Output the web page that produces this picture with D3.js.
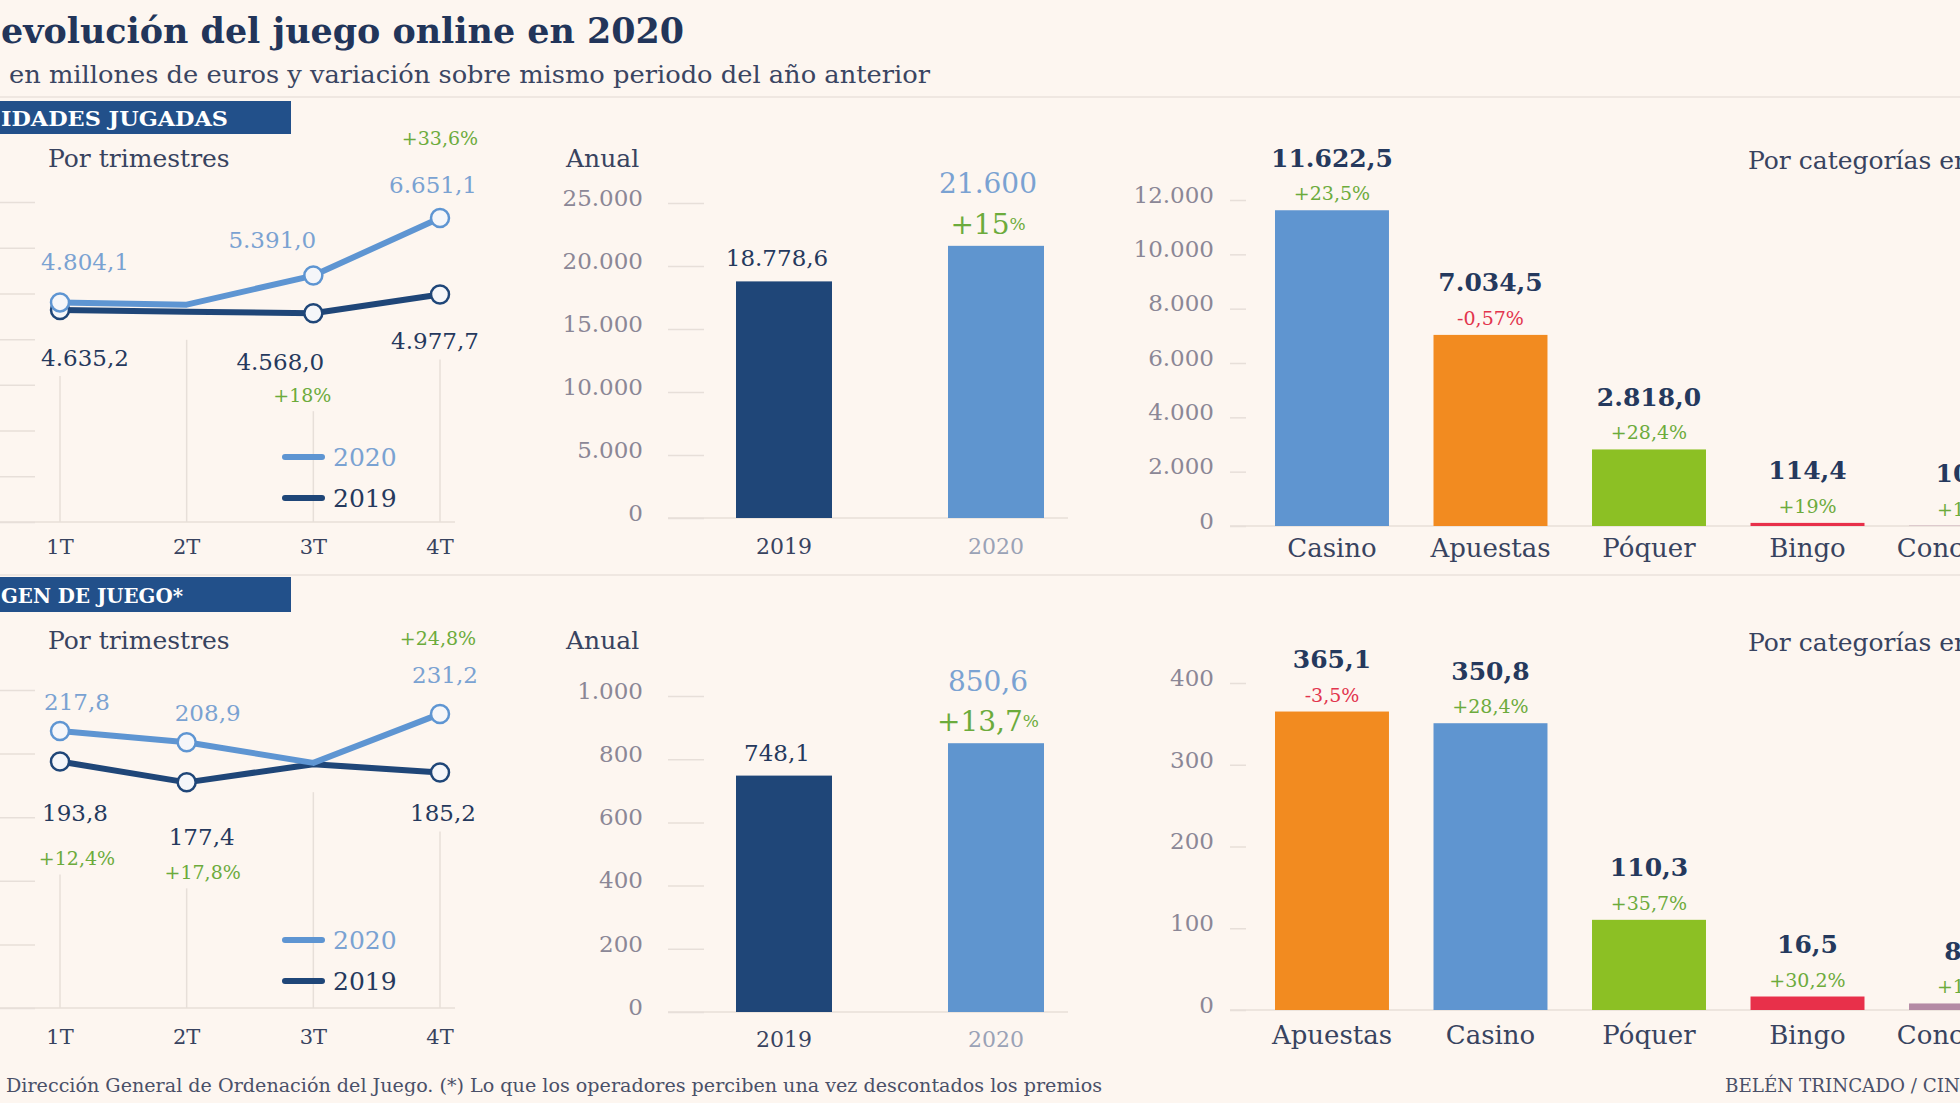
<!DOCTYPE html>
<html><head><meta charset="utf-8">
<script src="https://cdn.jsdelivr.net/npm/d3@7"></script>
<style>
html,body{margin:0;padding:0;background:#fdf6f0;overflow:hidden;}
svg{display:block;font-family:"DejaVu Serif",serif;}
</style></head><body>
<svg id="c" width="1960" height="1103"></svg>
<script>
// ---------- DATA ----------
const quarters = ["1T", "2T", "3T", "4T"];
const jugadas2020 = [4804.1, 4753.8, 5391.0, 6651.1];
const jugadas2019 = [4635.2, 4597.7, 4568.0, 4977.7];
const jugadasPct = ["", "", "+18%", "+33,6%"];
const jugadasTicks = [0, 1000, 2000, 3000, 4000, 5000, 6000, 7000];

const margen2020 = [217.8, 208.9, 192.7, 231.2];
const margen2019 = [193.8, 177.4, 191.7, 185.2];
const margenPct = ["+12,4%", "+17,8%", "", "+24,8%"];
const margenTicks = [0, 50, 100, 150, 200, 250];

const years = ["2019", "2020"];
const annualJugadas = [18778.6, 21600];
const annualJugadasDecimals = [1, 0];
const annualJugadasPct = "+15";
const annualJugadasTicks = [0, 5000, 10000, 15000, 20000, 25000];
const annualMargen = [748.1, 850.6];
const annualMargenDecimals = [1, 1];
const annualMargenPct = "+13,7";
const annualMargenTicks = [0, 200, 400, 600, 800, 1000];

const catJugadas = ["Casino", "Apuestas", "Póquer", "Bingo", "Concursos"];
const catJugadasValues = [11622.5, 7034.5, 2818.0, 114.4, 10.6];
const catJugadasPct = ["+23,5%", "-0,57%", "+28,4%", "+19%", "+18%"];
const catJugadasTicks = [0, 2000, 4000, 6000, 8000, 10000, 12000];
const catMargen = ["Apuestas", "Casino", "Póquer", "Bingo", "Concursos"];
const catMargenValues = [365.1, 350.8, 110.3, 16.5, 8.0];
const catMargenPct = ["-3,5%", "+28,4%", "+35,7%", "+30,2%", "+19%"];
const catMargenTicks = [0, 100, 200, 300, 400];

// ---------- STYLE ----------
const C = {
  bg: "#fdf6f0", navy: "#25395d", text: "#38435f", tick: "#8b8796", grid: "#e7dfd9",
  l2020: "#5e95d2", l2019: "#1f4678", green: "#6cab3c", red: "#e2344d",
  light: "#7aa2d2", header: "#22508a", year2020: "#9aa2b6"
};
const catColor = { Casino: "#5f95d0", Apuestas: "#f28b20", "Póquer": "#8cc024", Bingo: "#e8304a", Concursos: "#b48aa5" };

const es = d3.formatLocale({ decimal: ",", thousands: ".", grouping: [3], currency: ["", "€"] });
const fmt = d => es.format(",." + d + "f");
const f1 = fmt(1);

const svg = d3.select("#c");
svg.append("rect").attr("width", 1960).attr("height", 1103).attr("fill", C.bg);

function txt(g, x, y, s, size, fill, opt = {}) {
  return g.append("text").attr("x", x).attr("y", y).text(s)
    .attr("font-size", size).attr("fill", fill)
    .attr("text-anchor", opt.anchor || "middle")
    .attr("dominant-baseline", "central")
    .attr("font-weight", opt.bold ? "bold" : "normal");
}

// ---------- HEADINGS ----------
svg.append("line").attr("x1", 0).attr("x2", 1960).attr("y1", 97).attr("y2", 97).attr("stroke", "#efe7e1").attr("stroke-width", 2);
svg.append("line").attr("x1", 0).attr("x2", 1960).attr("y1", 575).attr("y2", 575).attr("stroke", "#efe7e1").attr("stroke-width", 2);

svg.append("text").attr("x", 1).attr("y", 43).text("evolución del juego online en 2020")
  .attr("font-size", 36).attr("font-weight", "bold").attr("fill", "#22355a")
  .attr("textLength", 683).attr("lengthAdjust", "spacingAndGlyphs");
svg.append("text").attr("x", 9).attr("y", 83).text("en millones de euros y variación sobre mismo periodo del año anterior")
  .attr("font-size", 24).attr("fill", "#3a4562")
  .attr("textLength", 921).attr("lengthAdjust", "spacingAndGlyphs");

function header(y, h, s, w) {
  svg.append("rect").attr("x", 0).attr("y", y).attr("width", 291).attr("height", h).attr("fill", C.header);
  svg.append("text").attr("x", 1).attr("y", y + h / 2 + 8).attr("font-size", 21)
    .attr("font-weight", "bold").attr("fill", "#ffffff").text(s)
    .attr("textLength", w).attr("lengthAdjust", "spacingAndGlyphs");
}
header(101, 33, "IDADES JUGADAS", 227);
header(577, 35, "GEN DE JUEGO*", 182);

svg.append("text").attr("x", 6).attr("y", 1092)
  .text("Dirección General de Ordenación del Juego. (*) Lo que los operadores perciben una vez descontados los premios")
  .attr("font-size", 19).attr("fill", "#4a5068")
  .attr("textLength", 1096).attr("lengthAdjust", "spacingAndGlyphs");
const by = svg.append("text").attr("x", 1725).attr("y", 1092).text("BELÉN TRINCADO / CINCO DÍAS")
  .attr("font-size", 19).attr("fill", "#4a5068");
{ // scale byline so that its visible part matches
  const n = by.node(); const w = n.getSubStringLength(0, 20);
  by.attr("font-size", 19 * 235 / w);
}

// ---------- LINE CHARTS ----------
function lineChart(o) {
  const g = svg.append("g");
  const x = d3.scalePoint().domain(quarters).range([60, 440]);
  const y = d3.scaleLinear().domain([0, o.ticks[o.ticks.length - 1]]).range([o.y0, o.y1]);

  txt(g, 48, o.titleY, "Por trimestres", 25, C.text, { anchor: "start" });

  g.append("g").attr("transform", "translate(35,0)")
    .call(d3.axisLeft(y).tickValues(o.ticks).tickSize(35).tickFormat(""))
    .call(a => { a.select(".domain").remove(); a.selectAll("line").attr("stroke", C.grid).attr("stroke-width", 1.5); });
  g.append("line").attr("x1", 0).attr("x2", 455).attr("y1", y(0)).attr("y2", y(0)).attr("stroke", C.grid).attr("stroke-width", 1.5);

  // vertical gridlines below annotations
  quarters.forEach((q, i) => {
    const p19 = y(o.v2019[i]);
    let top = p19 + 28;
    if (o.lay.lab2019[i]) top = Math.max(top, p19 + o.lay.lab2019[i].dy + 18);
    const pc = o.lay.pct[i];
    if (pc && pc.ref === "2019") top = Math.max(top, p19 + pc.dy + 16);
    g.append("line").attr("x1", x(q)).attr("x2", x(q)).attr("y1", top).attr("y2", y(0))
      .attr("stroke", C.grid).attr("stroke-width", 1.5);
  });

  quarters.forEach(q => txt(g, x(q), o.xlabY, q, 21, C.text));

  const line = d3.line().x((d, i) => x(quarters[i])).y(d => y(d));
  [[o.v2019, C.l2019], [o.v2020, C.l2020]].forEach(([vals, col]) => {
    g.append("path").datum(vals).attr("d", line).attr("fill", "none").attr("stroke", col)
      .attr("stroke-width", 6).attr("stroke-linejoin", "round").attr("stroke-linecap", "round");
  });
  [[o.v2019, C.l2019, o.lay.lab2019], [o.v2020, C.l2020, o.lay.lab2020]].forEach(([vals, col, lay]) => {
    vals.forEach((v, i) => {
      if (!lay[i]) return;
      g.append("circle").attr("cx", x(quarters[i])).attr("cy", y(v)).attr("r", 9)
        .attr("fill", "#f5f6f9").attr("stroke", col).attr("stroke-width", 2.5);
    });
  });
  o.v2020.forEach((v, i) => {
    const l = o.lay.lab2020[i]; if (!l) return;
    txt(g, x(quarters[i]) + l.dx, y(v) + l.dy, f1(v), 23, C.light);
  });
  o.v2019.forEach((v, i) => {
    const l = o.lay.lab2019[i]; if (!l) return;
    txt(g, x(quarters[i]) + l.dx, y(v) + l.dy, f1(v), 23, C.navy);
  });
  o.pct.forEach((s, i) => {
    const l = o.lay.pct[i]; if (!s || !l) return;
    const base = l.ref === "2019" ? o.v2019[i] : o.v2020[i];
    txt(g, x(quarters[i]) + l.dx, y(base) + l.dy, s, 19, C.green);
  });

  // legend
  [["2020", C.l2020, C.light, 0], ["2019", C.l2019, C.navy, 41]].forEach(([s, col, tc, off]) => {
    g.append("line").attr("x1", 285).attr("x2", 322).attr("y1", o.legY + off).attr("y2", o.legY + off)
      .attr("stroke", col).attr("stroke-width", 6).attr("stroke-linecap", "round");
    txt(g, 333, o.legY + off, s, 25, tc, { anchor: "start" });
  });
}

lineChart({
  v2020: jugadas2020, v2019: jugadas2019, pct: jugadasPct, ticks: jugadasTicks,
  y0: 522, y1: 202, titleY: 158, xlabY: 547, legY: 457,
  lay: {
    lab2020: [{ dx: 25, dy: -40 }, null, { dx: -41, dy: -36 }, { dx: -7, dy: -33 }],
    lab2019: [{ dx: 25, dy: 48 }, null, { dx: -33, dy: 49 }, { dx: -5, dy: 47 }],
    pct: [null, null, { ref: "2019", dx: -11, dy: 82 }, { ref: "2020", dx: 0, dy: -80 }]
  }
});
lineChart({
  v2020: margen2020, v2019: margen2019, pct: margenPct, ticks: margenTicks,
  y0: 1008, y1: 690, titleY: 640, xlabY: 1037, legY: 940,
  lay: {
    lab2020: [{ dx: 17, dy: -29 }, { dx: 21, dy: -29 }, null, { dx: 5, dy: -39 }],
    lab2019: [{ dx: 15, dy: 52 }, { dx: 15, dy: 55 }, null, { dx: 3, dy: 41 }],
    pct: [{ ref: "2019", dx: 17, dy: 97 }, { ref: "2019", dx: 16, dy: 90 }, null, { ref: "2020", dx: -2, dy: -76 }]
  }
});

// ---------- ANNUAL BARS ----------
function annual(o) {
  const g = svg.append("g");
  const x = d3.scalePoint().domain(years).range([784, 996]);
  const y = d3.scaleLinear().domain([0, o.ticks[o.ticks.length - 1]]).range([o.y0, o.y1]);
  const bw = 96;
  txt(g, 566, o.titleY, "Anual", 25, C.text, { anchor: "start" });
  g.append("g").attr("transform", "translate(704,0)")
    .call(d3.axisLeft(y).tickValues(o.ticks).tickSize(36).tickPadding(25).tickFormat(fmt(0)))
    .call(a => {
      a.select(".domain").remove();
      a.selectAll("line").attr("stroke", C.grid).attr("stroke-width", 1.5);
      a.selectAll("text").attr("font-size", 23).attr("fill", C.tick).attr("font-family", "DejaVu Serif").attr("dy", "0.1em");
    });
  g.append("line").attr("x1", 668).attr("x2", 1068).attr("y1", y(0)).attr("y2", y(0)).attr("stroke", C.grid).attr("stroke-width", 1.5);
  const cols = [C.l2019, "#5f95cf"];
  o.values.forEach((v, i) => {
    g.append("rect").attr("x", x(years[i]) - bw / 2).attr("y", y(v)).attr("width", bw).attr("height", y(0) - y(v)).attr("fill", cols[i]);
  });
  txt(g, x(years[0]) - 7, y(o.values[0]) - 23, fmt(o.dec[0])(o.values[0]), 23, C.navy);
  txt(g, x(years[1]) - 8, y(o.values[1]) - 62, fmt(o.dec[1])(o.values[1]), 28, C.light);
  const p = txt(g, x(years[1]) - 8, y(o.values[1]) - 22, "", 28, C.green);
  p.append("tspan").text(o.pct);
  p.append("tspan").text("%").attr("font-size", 17);
  txt(g, x(years[0]), o.xlabY, years[0], 22, C.text);
  txt(g, x(years[1]), o.xlabY, years[1], 22, C.year2020);
}
annual({ values: annualJugadas, dec: annualJugadasDecimals, pct: annualJugadasPct, ticks: annualJugadasTicks, y0: 518, y1: 203, titleY: 158, xlabY: 546 });
annual({ values: annualMargen, dec: annualMargenDecimals, pct: annualMargenPct, ticks: annualMargenTicks, y0: 1012, y1: 696, titleY: 640, xlabY: 1039 });

// ---------- CATEGORY BARS ----------
function cats(o) {
  const g = svg.append("g");
  const x = d3.scaleBand().domain(o.cats).range([1275, 2023]).paddingInner(0.281).paddingOuter(0);
  const y = d3.scaleLinear().domain([0, o.ticks[o.ticks.length - 1]]).range([o.y0, o.y1]);
  txt(g, 1748, o.titleY, "Por categorías en 2020", 25, C.text, { anchor: "start" });
  g.append("g").attr("transform", "translate(1246,0)")
    .call(d3.axisLeft(y).tickValues(o.ticks).tickSize(16).tickPadding(16).tickFormat(fmt(0)))
    .call(a => {
      a.select(".domain").remove();
      a.selectAll("line").attr("stroke", C.grid).attr("stroke-width", 1.5);
      a.selectAll("text").attr("font-size", 23).attr("fill", C.tick).attr("font-family", "DejaVu Serif").attr("dy", "0.1em");
    });
  g.append("line").attr("x1", 1230).attr("x2", 1960).attr("y1", y(0)).attr("y2", y(0)).attr("stroke", C.grid).attr("stroke-width", 1.5);
  o.cats.forEach((c, i) => {
    const v = o.values[i], cx = x(c) + x.bandwidth() / 2;
    g.append("rect").attr("x", x(c)).attr("y", y(v)).attr("width", x.bandwidth()).attr("height", y(0) - y(v)).attr("fill", catColor[c]);
    txt(g, cx, y(v) - 52, f1(v), 25, C.navy, { bold: true });
    txt(g, cx, y(v) - 17, o.pct[i], 19, o.pct[i][0] === "-" ? C.red : C.green);
    txt(g, cx, o.xlabY, c, 26, C.text);
  });
}
cats({ cats: catJugadas, values: catJugadasValues, pct: catJugadasPct, ticks: catJugadasTicks, y0: 526, y1: 200, titleY: 160, xlabY: 548 });
cats({ cats: catMargen, values: catMargenValues, pct: catMargenPct, ticks: catMargenTicks, y0: 1010, y1: 683, titleY: 642, xlabY: 1035 });
</script>
</body></html>
